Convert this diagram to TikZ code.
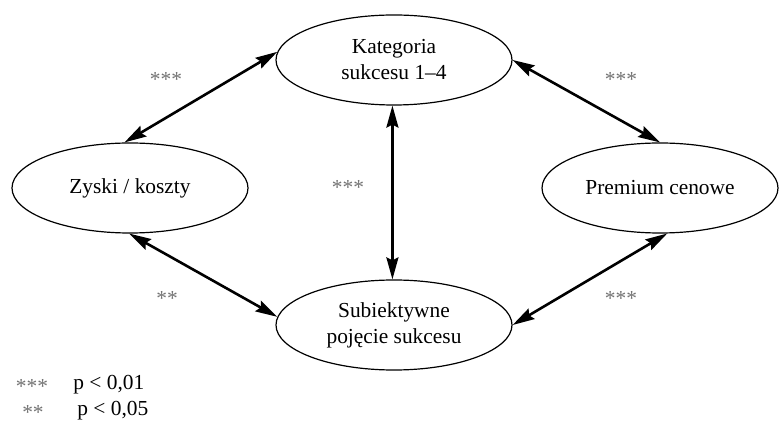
\documentclass[tikz,border=0pt]{standalone}
\usepackage{fontspec}
\setmainfont{Liberation Serif}
\usepackage{tikz}
\usetikzlibrary{arrows.meta,shapes.geometric}
\usepackage{xcolor}

\begin{document}
\begin{tikzpicture}[x=0.5pt,y=-0.5pt]
    \tikzset{every node/.style={align=center,font=\fontsize{10.7}{13}\selectfont}}
    \tikzset{vertex/.style = {shape=ellipse,draw,line width=0.6pt,inner sep=0pt,
        minimum width=118pt,minimum height=45pt}}
    \tikzset{edge/.style = {{Stealth[length=11pt,width=6pt,inset=1.5pt]}-{Stealth[length=11pt,width=6pt,inset=1.5pt]},line width=1.3pt}}
    \tikzset{stars/.style = {text=black!55}}
    \useasboundingbox (0,0) rectangle (779,426);
    % vertices
    \node[vertex] (kat)  at (394,60)  {Kategoria\\sukcesu 1--4};
    \node[vertex] (zys)  at (130,188) {Zyski / koszty};
    \node[vertex] (prem) at (660,188) {Premium cenowe};
    \node[vertex] (sub)  at (394,325) {Subiektywne\\pojęcie sukcesu};

    %edges
    \draw[edge] (zys.97) -- (kat.176);
    \draw[edge] (kat.east) -- (prem.north);
    \draw[edge] (kat.-92) -- (sub.92);
    \draw[edge] (zys.-91) -- (sub.176);
    \draw[edge] (sub.east) -- (prem.-81);

    % significance
    \node[stars] (s1) at (166,79)  {***};
    \node[stars] (s2) at (621,79)  {***};
    \node[stars] (s3) at (348,187) {***};
    \node[stars] (s4) at (167,298) {**};
    \node[stars] (s5) at (621,298) {***};

    % legend
    \node[stars] (l1) at (32,386) {***};
    \node[anchor=west,inner sep=0pt] (p1) at (73,385) {p < 0,01};
    \node[stars] (l2) at (33,412) {**};
    \node[anchor=west,inner sep=0pt] (p2) at (77,411) {p < 0,05};
\end{tikzpicture}
\end{document}
